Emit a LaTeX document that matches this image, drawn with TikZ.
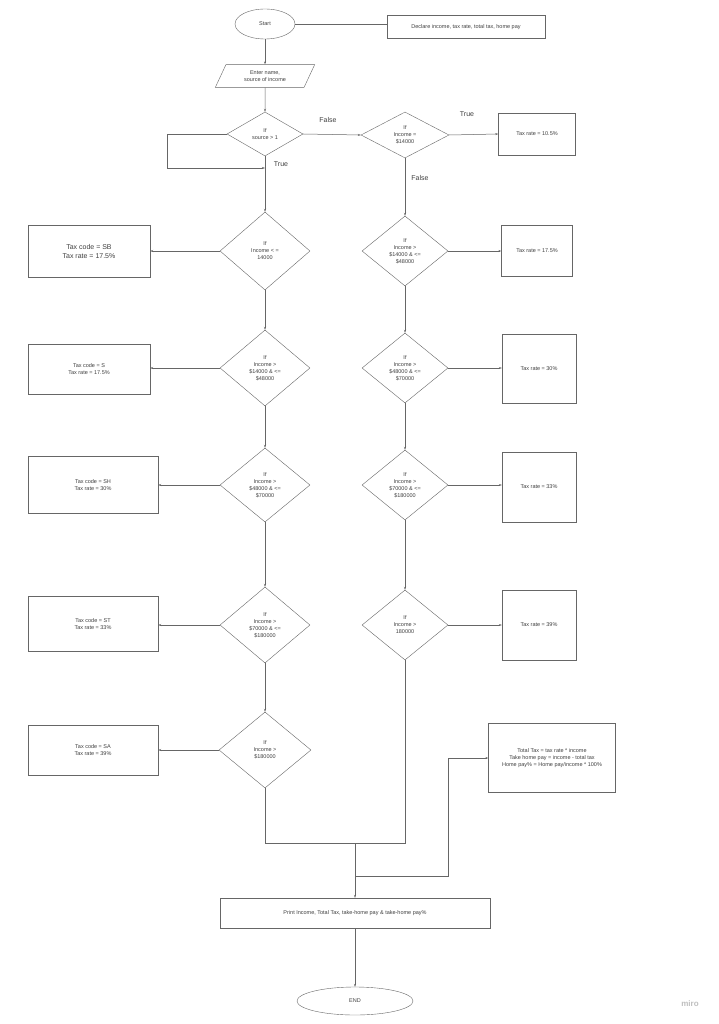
\documentclass[tikz,border=0pt]{standalone}
\usepackage{fontspec}
\setmainfont{Liberation Sans}
\usetikzlibrary{shapes.geometric,arrows.meta}
\begin{document}
\begin{tikzpicture}[x=1pt,y=-1pt,
  every node/.style={font=\fontsize{5.5}{7}\selectfont,align=center,text=black!75},
  dia/.style={draw=black!60,diamond,minimum width=#1,minimum height=#1,inner sep=0pt},
  box/.style={draw=black!60,rectangle,inner sep=0pt},
  ln/.style={draw=black!60,line width=0.5pt},
  ar/.style={ln,-{Stealth[length=3pt,width=2pt]}},
  lab/.style={font=\fontsize{7}{8}\selectfont}]
\useasboundingbox[fill=white] (0,0) rectangle (719,1024);
\node[draw=black!60,ellipse,minimum width=60,minimum height=30] (start) at (265,24) {Start};
\node[box,minimum width=158,minimum height=23] (decl) at (466,27) {Declare income, tax rate, total tax, home pay};
\draw[ln] (start.east) -- (decl.west |- start.east);
\node[draw=black!60,trapezium,trapezium left angle=65,trapezium right angle=115,minimum width=100,minimum height=18,inner sep=1pt] (inp) at (265,76) {Enter name,\\source of income};
\draw[ar] (start) -- (inp);
\node[dia=1,minimum width=76,minimum height=44] (d1) at (265,134) {If\\source > 1};
\draw[ar] (inp) -- (d1);
\coordinate (lp) at (265,168);
\draw[ar] (d1.west) -- (167,134) -- (167,168) -- (lp);
\node[dia=1,minimum width=88,minimum height=46] (r1) at (405,135) {If\\Income =\\\$14000};
\draw[ar] (d1.east) -- (r1.west);
\node[lab] (f1) at (328,120) {False};
\node[box,minimum width=77,minimum height=42] (b0) at (537,134) {Tax rate = 10.5\%};
\draw[ar] (r1.east) -- (b0.west);
\node[lab] (t1) at (467,114) {True};
% left column
\node[dia=1,minimum width=90,minimum height=78] (l2) at (265,251) {If\\Income < =\\14000};
\draw[ln] (d1.south) -- (lp);
\draw[ar] (lp) -- (l2.north);
\node[lab] (t2) at (281,164) {True};
\node[dia=1,minimum width=90,minimum height=76] (l3) at (265,368) {If\\Income >\\\$14000 \& <=\\\$48000};
\node[dia=1,minimum width=90,minimum height=74] (l4) at (265,485) {If\\Income >\\\$48000 \& <=\\\$70000};
\node[dia=1,minimum width=90,minimum height=76] (l5) at (265,625) {If\\Income >\\\$70000 \& <=\\\$180000};
\node[dia=1,minimum width=92,minimum height=76] (l6) at (265,750) {If\\Income >\\\$180000};
\draw[ar] (l2) -- (l3);
\draw[ar] (l3) -- (l4);
\draw[ar] (l4) -- (l5);
\draw[ar] (l5) -- (l6);
\node[box,minimum width=122,minimum height=52,font=\fontsize{7}{9}\selectfont] (bl2) at (89,251) {Tax code = SB\\Tax rate = 17.5\%};
\node[box,minimum width=122,minimum height=50] (bl3) at (89,369) {Tax code = S\\Tax rate = 17.5\%};
\node[box,minimum width=130,minimum height=57] (bl4) at (93,485) {Tax code = SH\\Tax rate = 30\%};
\node[box,minimum width=130,minimum height=55] (bl5) at (93,624) {Tax code = ST\\Tax rate = 33\%};
\node[box,minimum width=130,minimum height=50] (bl6) at (93,750) {Tax code = SA\\Tax rate = 39\%};
\draw[ar] (l2.west) -- (bl2.east |- l2.west);
\draw[ar] (l3.west) -- (bl3.east |- l3.west);
\draw[ar] (l4.west) -- (bl4.east |- l4.west);
\draw[ar] (l5.west) -- (bl5.east |- l5.west);
\draw[ar] (l6.west) -- (bl6.east |- l6.west);
% right column
\node[dia=1,minimum width=86,minimum height=70] (r2) at (405,251) {If\\Income >\\\$14000 \& <=\\\$48000};
\node[dia=1,minimum width=86,minimum height=70] (r3) at (405,368) {If\\Income >\\\$48000 \& <=\\\$70000};
\node[dia=1,minimum width=86,minimum height=70] (r4) at (405,485) {If\\Income >\\\$70000 \& <=\\\$180000};
\node[dia=1,minimum width=86,minimum height=70] (r5) at (405,625) {If\\Income >\\180000};
\draw[ar] (r1) -- (r2);
\node[lab] (f2) at (420,178) {False};
\draw[ar] (r2) -- (r3);
\draw[ar] (r3) -- (r4);
\draw[ar] (r4) -- (r5);
\node[box,minimum width=71,minimum height=51] (br2) at (537,251) {Tax rate = 17.5\%};
\node[box,minimum width=74,minimum height=69] (br3) at (539,369) {Tax rate = 30\%};
\node[box,minimum width=74,minimum height=70] (br4) at (539,487) {Tax rate = 33\%};
\node[box,minimum width=74,minimum height=70] (br5) at (539,625) {Tax rate = 39\%};
\draw[ar] (r2.east) -- (br2.west |- r2.east);
\draw[ar] (r3.east) -- (br3.west |- r3.east);
\draw[ar] (r4.east) -- (br4.west |- r4.east);
\draw[ar] (r5.east) -- (br5.west |- r5.east);
% bottom
\node[box,minimum width=127,minimum height=69] (tot) at (552,758) {Total Tax = tax rate * income\\Take home pay = income - total tax\\Home pay\% = Home pay/income * 100\%};
\node[box,minimum width=270,minimum height=30] (pr) at (355,913) {Print Income, Total Tax, take-home pay \& take-home pay\%};
\node[draw=black!60,ellipse,minimum width=116,minimum height=28] (end) at (355,1001) {END};
\coordinate (m) at (355,843);
\coordinate (br) at (355,876);
\draw[ln] (l6.south) -- (265,843) -- (m);
\draw[ln] (r5.south) -- (405,843) -- (m);
\draw[ar] (m) -- (pr.north);
\draw[ar] (br) -- (448,876) -- (448,758) -- (tot.west);
\draw[ar] (pr) -- (end);
\node[font=\fontsize{8}{9}\selectfont\bfseries,text=black!25] (miro) at (690,1004) {miro};
\end{tikzpicture}
\end{document}
